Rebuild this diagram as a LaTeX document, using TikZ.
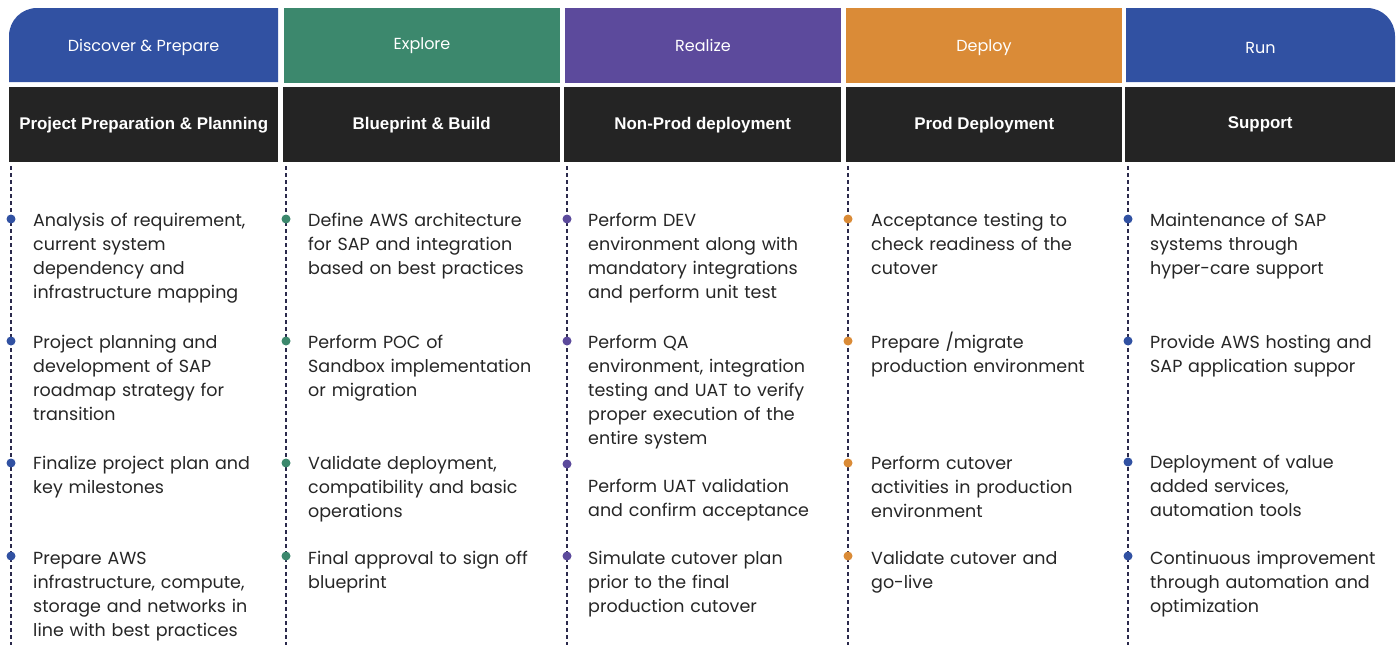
\documentclass[tikz,border=0pt]{standalone}
\usepackage{fontspec}
\setmainfont{Poppins}
\newfontfamily\hdfont{Liberation Sans}
\definecolor{cblue}{HTML}{3151A2}
\definecolor{cgreen}{HTML}{3C886D}
\definecolor{cpurple}{HTML}{5C4A9C}
\definecolor{corange}{HTML}{DA8B37}
\definecolor{cblack}{HTML}{242424}
\definecolor{cline}{HTML}{2B2A4C}
\definecolor{ctext}{HTML}{262626}
\begin{document}
\begin{tikzpicture}[x=1pt,y=-1pt,
  phase/.style={inner sep=0pt, text=white, font=\fontsize{16}{18}\selectfont},
  stage/.style={fill=cblack, inner sep=0pt, minimum height=75pt, text=white, font=\hdfont\bfseries\fontsize{16.9}{18}\selectfont, anchor=north west},
  vline/.style={draw=cline, line width=2pt, dash pattern=on 4pt off 3pt},
  dot/.style={circle, inner sep=0pt, minimum size=9pt},
  item/.style={anchor=base west, inner sep=0pt, text width=270pt, align=left, text=ctext, font=\fontsize{17.5}{24}\selectfont}]
\useasboundingbox (0,0) rectangle (1397,645);
% colored phase headers
\fill[cblue] (9,82) -- (9,36) arc[start angle=180, end angle=270, radius=28] -- (278,8) -- (278,82) -- cycle;
\node[phase] (p1) at (143.5,47) {Discover \& Prepare};
\fill[cgreen] (284,8) rectangle (560,83);
\node[phase] (p2) at (422,46) {Explore};
\fill[cpurple] (565,8) rectangle (841,83);
\node[phase] (p3) at (703,45) {Realize};
\fill[corange] (846,8) rectangle (1122,83);
\node[phase] (p4) at (984,48) {Deploy};
\fill[cblue] (1126,8) -- (1367,8) arc[start angle=270, end angle=360, radius=28] -- (1395,82) -- (1126,82) -- cycle;
\node[phase] (p5) at (1260.5,48) {Run};
% black stage headers
\node[stage, minimum width=269pt] (s1) at (9,87) {Project Preparation \& Planning};
\node[stage, minimum width=277pt] (s2) at (283,87) {Blueprint \& Build};
\node[stage, minimum width=277pt] (s3) at (564,87) {Non-Prod deployment};
\node[stage, minimum width=276pt] (s4) at (846,87) {Prod Deployment};
\node[stage, minimum width=270pt] (s5) at (1125,87) {Support};
% dashed timelines
\coordinate (t1) at (11,166); \coordinate (b1) at (11,645);
\coordinate (t2) at (286,166); \coordinate (b2) at (286,645);
\coordinate (t3) at (567,166); \coordinate (b3) at (567,645);
\coordinate (t4) at (848,166); \coordinate (b4) at (848,645);
\coordinate (t5) at (1128,166); \coordinate (b5) at (1128,645);
\foreach \i in {1,...,5} \draw[vline] (t\i) -- (b\i);
% column 1
\node[dot, fill=cblue] (d11) at (11,219) {};
\node[item] (i11) at (33,226) {Analysis of requirement,\\current system\\dependency and\\infrastructure mapping};
\node[dot, fill=cblue] (d12) at (11,341) {};
\node[item] (i12) at (33,348) {Project planning and\\development of SAP\\roadmap strategy for\\transition};
\node[dot, fill=cblue] (d13) at (11,463) {};
\node[item] (i13) at (33,469) {Finalize project plan and\\key milestones};
\node[dot, fill=cblue] (d14) at (11,556) {};
\node[item] (i14) at (33,564) {Prepare AWS\\infrastructure, compute,\\storage and networks in\\line with best practices};
% column 2
\node[dot, fill=cgreen] (d21) at (286,219) {};
\node[item] (i21) at (308,226) {Define AWS architecture\\for SAP and integration\\based on best practices};
\node[dot, fill=cgreen] (d22) at (286,341) {};
\node[item] (i22) at (308,348) {Perform POC of\\Sandbox implementation\\or migration};
\node[dot, fill=cgreen] (d23) at (286,463) {};
\node[item] (i23) at (308,469) {Validate deployment,\\compatibility and basic\\operations};
\node[dot, fill=cgreen] (d24) at (286,556) {};
\node[item] (i24) at (308,564) {Final approval to sign off\\blueprint};
% column 3
\node[dot, fill=cpurple] (d31) at (567,219) {};
\node[item] (i31) at (588,226) {Perform DEV\\environment along with\\mandatory integrations\\and perform unit test};
\node[dot, fill=cpurple] (d32) at (567,341) {};
\node[item] (i32) at (588,348) {Perform QA\\environment, integration\\testing and UAT to verify\\proper execution of the\\entire system};
\node[dot, fill=cpurple] (d33) at (567,464) {};
\node[item] (i33) at (588,492) {Perform UAT validation\\and confirm acceptance};
\node[dot, fill=cpurple] (d34) at (567,556) {};
\node[item] (i34) at (588,564) {Simulate cutover plan\\prior to the final\\production cutover};
% column 4
\node[dot, fill=corange] (d41) at (848,219) {};
\node[item] (i41) at (871,226) {Acceptance testing to\\check readiness of the\\cutover};
\node[dot, fill=corange] (d42) at (848,341) {};
\node[item] (i42) at (871,348) {Prepare /migrate\\production environment};
\node[dot, fill=corange] (d43) at (848,463) {};
\node[item] (i43) at (871,469) {Perform cutover\\activities in production\\environment};
\node[dot, fill=corange] (d44) at (848,556) {};
\node[item] (i44) at (871,564) {Validate cutover and\\go-live};
% column 5
\node[dot, fill=cblue] (d51) at (1128,219) {};
\node[item] (i51) at (1150,226) {Maintenance of SAP\\systems through\\hyper-care support};
\node[dot, fill=cblue] (d52) at (1128,341) {};
\node[item] (i52) at (1150,348) {Provide AWS hosting and\\SAP application suppor};
\node[dot, fill=cblue] (d53) at (1128,462) {};
\node[item] (i53) at (1150,468) {Deployment of value\\added services,\\automation tools};
\node[dot, fill=cblue] (d54) at (1128,556) {};
\node[item] (i54) at (1150,564) {Continuous improvement\\through automation and\\optimization};
\end{tikzpicture}
\end{document}
